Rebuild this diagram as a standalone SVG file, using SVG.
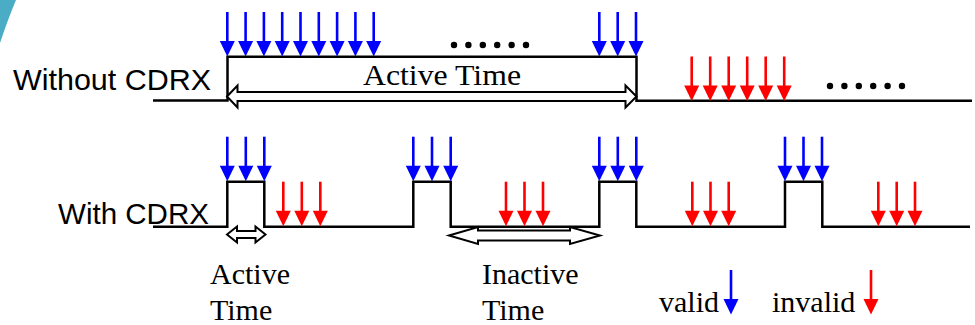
<svg xmlns="http://www.w3.org/2000/svg" xmlns:xlink="http://www.w3.org/1999/xlink" width="975" height="325" viewBox="0 0 975 325">
<style>
.sig{fill:none;stroke:#000;stroke-width:2.5;stroke-linejoin:miter}
.blk{fill:#fff;stroke:#000;stroke-width:2}
.lbl{font-family:"Liberation Sans",Arial,sans-serif;font-size:30px;fill:#000}
.ser{font-family:"Liberation Serif","Times New Roman",serif;font-size:30px;fill:#000}
.dot{fill:#000}
</style>
<defs>
<g id="ab"><line x1="0" y1="0" x2="0" y2="30" stroke="#0000ff" stroke-width="2.6"/><polygon points="-7.5,29 7.5,29 0,44.5" fill="#0000ff"/></g>
<g id="ar"><line x1="0" y1="0" x2="0" y2="30" stroke="#ff0000" stroke-width="2.6"/><polygon points="-7.5,29 7.5,29 0,44.5" fill="#ff0000"/></g>
</defs>
<path d="M0,0 H16 Q8,19 0,43 Z" fill="#4bacc6"/>
<g id="without">
<text class="lbl" x="13" y="90" textLength="198" lengthAdjust="spacingAndGlyphs">Without CDRX</text>
<path class="sig" d="M153,100.5 H227.5 V56.8 H636.5 V100.8 H972"/>
<polygon class="blk" points="227,96.5 237.5,85.5 237.5,92 625.5,92 625.5,85.5 636.5,96.5 625.5,107.5 625.5,101 237.5,101 237.5,107.5"/>
<text class="ser" x="363" y="85" textLength="158" lengthAdjust="spacingAndGlyphs">Active Time</text>
<g id="top-valid">
<use xlink:href="#ab" x="227.3" y="12"/><use xlink:href="#ab" x="245.6" y="12"/><use xlink:href="#ab" x="263.9" y="12"/>
<use xlink:href="#ab" x="282.2" y="12"/><use xlink:href="#ab" x="300.5" y="12"/><use xlink:href="#ab" x="318.8" y="12"/>
<use xlink:href="#ab" x="337.1" y="12"/><use xlink:href="#ab" x="355.4" y="12"/><use xlink:href="#ab" x="373.7" y="12"/>
<use xlink:href="#ab" x="599.3" y="12"/><use xlink:href="#ab" x="617.7" y="12"/><use xlink:href="#ab" x="636" y="12"/>
</g>
<g id="top-invalid">
<use xlink:href="#ar" x="691.7" y="56.5"/><use xlink:href="#ar" x="710.2" y="56.5"/><use xlink:href="#ar" x="728.7" y="56.5"/>
<use xlink:href="#ar" x="747.2" y="56.5"/><use xlink:href="#ar" x="765.7" y="56.5"/><use xlink:href="#ar" x="784.2" y="56.5"/>
</g>
<g id="dots1"><circle class="dot" cx="454" cy="45" r="3.2"/><circle class="dot" cx="468.4" cy="45" r="3.2"/><circle class="dot" cx="482.8" cy="45" r="3.2"/><circle class="dot" cx="497.2" cy="45" r="3.2"/><circle class="dot" cx="511.6" cy="45" r="3.2"/><circle class="dot" cx="526" cy="45" r="3.2"/></g>
<g id="dots2"><circle class="dot" cx="830" cy="86" r="3.2"/><circle class="dot" cx="844.4" cy="86" r="3.2"/><circle class="dot" cx="858.8" cy="86" r="3.2"/><circle class="dot" cx="873.2" cy="86" r="3.2"/><circle class="dot" cx="887.6" cy="86" r="3.2"/><circle class="dot" cx="902" cy="86" r="3.2"/></g>
</g>
<g id="with">
<text class="lbl" x="58" y="224" textLength="151" lengthAdjust="spacingAndGlyphs">With CDRX</text>
<path class="sig" d="M153,226.7 H227.3 V181.7 H264.3 V226.7 H413.3 V181.7 H450.7 V226.7 H599.3 V181.7 H636.3 V226.7 H785 V181.7 H822.3 V226.7 H970"/>
<polygon class="blk" points="227,234.5 237,226.5 237,231 255.5,231 255.5,226.5 265.5,234.5 255.5,242.5 255.5,238 237,238 237,242.5"/>
<polygon class="blk" points="449,235.5 478,227 478,230.5 570,230.5 570,227 600,235.5 570,244 570,240.5 478,240.5 478,244"/>
<g id="bot-valid">
<use xlink:href="#ab" x="227.3" y="136.7"/><use xlink:href="#ab" x="245.8" y="136.7"/><use xlink:href="#ab" x="264.3" y="136.7"/>
<use xlink:href="#ab" x="413.3" y="136.7"/><use xlink:href="#ab" x="432" y="136.7"/><use xlink:href="#ab" x="450.7" y="136.7"/>
<use xlink:href="#ab" x="599.3" y="136.7"/><use xlink:href="#ab" x="617.8" y="136.7"/><use xlink:href="#ab" x="636.3" y="136.7"/>
<use xlink:href="#ab" x="785" y="136.7"/><use xlink:href="#ab" x="803.5" y="136.7"/><use xlink:href="#ab" x="822" y="136.7"/>
</g>
<g id="bot-invalid">
<use xlink:href="#ar" x="283.3" y="181.7"/><use xlink:href="#ar" x="301.8" y="181.7"/><use xlink:href="#ar" x="320.3" y="181.7"/>
<use xlink:href="#ar" x="506" y="181.7"/><use xlink:href="#ar" x="524.5" y="181.7"/><use xlink:href="#ar" x="543" y="181.7"/>
<use xlink:href="#ar" x="692.3" y="181.7"/><use xlink:href="#ar" x="710.5" y="181.7"/><use xlink:href="#ar" x="728.7" y="181.7"/>
<use xlink:href="#ar" x="878.3" y="181.7"/><use xlink:href="#ar" x="896.7" y="181.7"/><use xlink:href="#ar" x="915" y="181.7"/>
</g>
<text class="ser" x="210" y="283.5">Active</text>
<text class="ser" x="210" y="320">Time</text>
<text class="ser" x="482" y="283.5">Inactive</text>
<text class="ser" x="482" y="320">Time</text>
</g>
<g id="legend">
<text class="ser" x="659" y="311.5">valid</text>
<use xlink:href="#ab" x="731" y="270"/>
<text class="ser" x="772" y="311.5">invalid</text>
<use xlink:href="#ar" x="871" y="270"/>
</g>
</svg>
